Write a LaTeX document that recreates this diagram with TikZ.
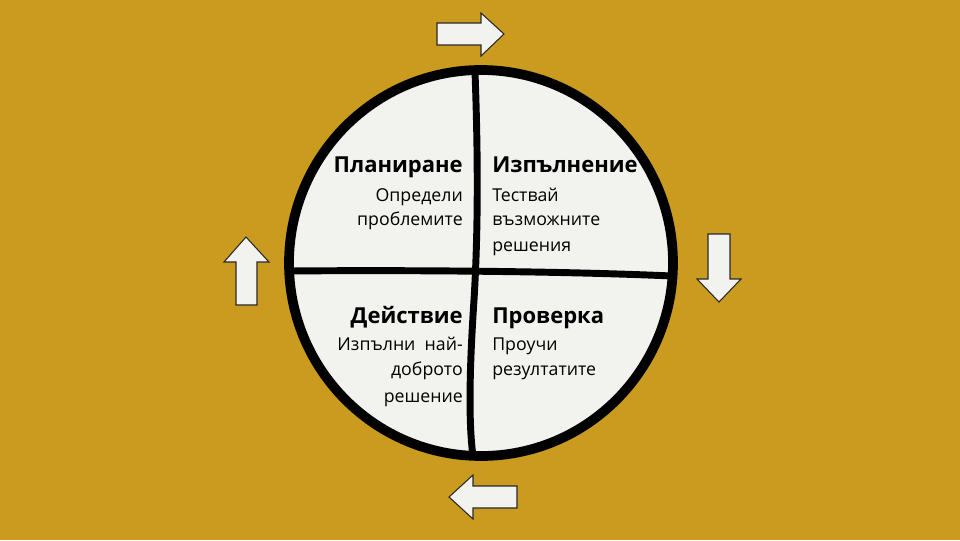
\documentclass[tikz,border=0pt]{standalone}
\usepackage{fontspec}
\setmainfont{Open Sans}
\definecolor{bg}{RGB}{202,155,30}
\definecolor{paper}{RGB}{242,242,238}
\definecolor{edge}{RGB}{40,40,40}
\begin{document}
\begin{tikzpicture}[x=0.75pt,y=-0.75pt,
  head/.style={inner sep=0pt,font=\fontsize{16.5}{20}\selectfont\bfseries},
  body/.style={inner sep=0pt,font=\fontsize{13.3}{16}\selectfont},
  arrowshape/.style={fill=paper,draw=edge,line width=0.8pt,line join=miter},
  divider/.style={line width=5.2pt,line cap=round}]
\fill[bg] (0,0) rectangle (960,540);
\useasboundingbox (0,0) rectangle (960,540);
% circle
\draw[fill=paper,line width=7.3pt] (481,263) ellipse [x radius=144pt, y radius=144.75pt];
% dividers
\draw[divider] (290,271) .. controls (400,270) and (560,271) .. (672,276);
\draw[divider] (475,72) .. controls (479,180) and (477,250) .. (474,300) .. controls (470,360) and (468,420) .. (473,456);
% arrows
\draw[arrowshape] (437,23) -- (481,23) -- (481,13) -- (504,34) -- (481,56) -- (481,45) -- (437,45) -- cycle;
\draw[arrowshape] (708,234) -- (730,234) -- (730,279) -- (741,279) -- (719,302) -- (697,279) -- (708,279) -- cycle;
\draw[arrowshape] (517,486) -- (473,486) -- (473,475) -- (449,497) -- (473,519) -- (473,508) -- (517,508) -- cycle;
\draw[arrowshape] (236,305) -- (236,262) -- (224,262) -- (246,237) -- (269,262) -- (257,262) -- (257,305) -- cycle;
% texts
\node[head,anchor=base east] (h1) at (463,172) {Планиране};
\node[body,anchor=base east] (b1a) at (463,201) {Определи};
\node[body,anchor=base east] (b1b) at (463,225) {проблемите};
\node[head,anchor=base west] (h2) at (492,172) {Изпълнение};
\node[body,anchor=base west] (b2a) at (492,201) {Тествай};
\node[body,anchor=base west] (b2b) at (492,225) {възможните};
\node[body,anchor=base west] (b2c) at (492,251) {решения};
\node[head,anchor=base east] (h3) at (463,323) {Действие};
\node[body,anchor=base east] (b3a) at (463,350) {Изпълни\ \ най-};
\node[body,anchor=base east] (b3b) at (463,375) {доброто};
\node[body,anchor=base east] (b3c) at (463,402) {решение};
\node[head,anchor=base west] (h4) at (492,323) {Проверка};
\node[body,anchor=base west] (b4a) at (492,350) {Проучи};
\node[body,anchor=base west] (b4b) at (492,375) {резултатите};
\end{tikzpicture}
\end{document}
